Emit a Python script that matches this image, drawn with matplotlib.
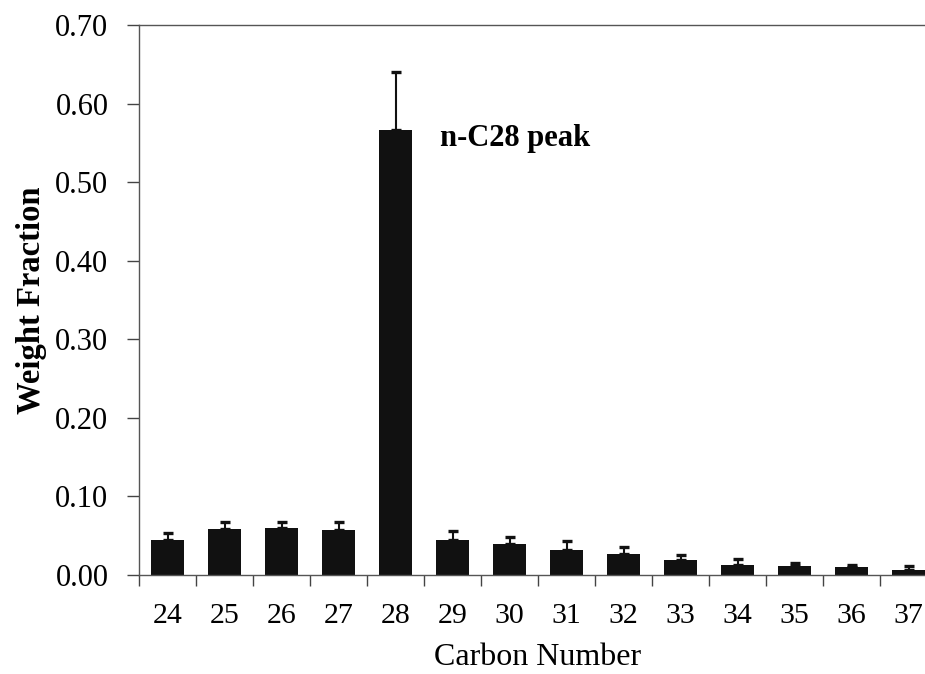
import matplotlib
matplotlib.use("Agg")
import matplotlib.pyplot as plt
import numpy as np

carbon = [24, 25, 26, 27, 28, 29, 30, 31, 32, 33, 34, 35, 36, 37]
fraction = [0.045, 0.058, 0.060, 0.057, 0.566, 0.045, 0.039, 0.032, 0.027, 0.019, 0.013, 0.011, 0.010, 0.006]
error = [0.008, 0.009, 0.008, 0.010, 0.074, 0.011, 0.009, 0.011, 0.008, 0.007, 0.007, 0.004, 0.003, 0.005]
yticks = [0.0, 0.1, 0.2, 0.3, 0.4, 0.5, 0.6, 0.7]

plt.rcParams['font.family'] = ['Liberation Serif', 'DejaVu Serif']

fig = plt.figure(figsize=(9.25, 6.74), dpi=100)
ax = fig.add_axes([0.1503, 0.1469, 0.8627, 0.8160])

ax.bar(carbon, fraction, width=0.57, color='#111111', zorder=2)
ax.errorbar(carbon, fraction, yerr=[np.zeros(len(error)), error], fmt='none',
            ecolor='#111111', elinewidth=1.5, capsize=3.6, capthick=2.4, zorder=3)

ax.set_xlim(23.5, 37.5)
ax.set_ylim(0, 0.70)
ax.set_yticks(yticks)
ax.set_yticklabels([f"{v:.2f}" for v in yticks], fontsize=22)

bounds = np.arange(23.5, 38.0, 1.0)
ax.set_xticks(bounds)
ax.set_xticklabels([])
ax.set_xticks(carbon, minor=True)
ax.set_xticklabels([str(c) for c in carbon], minor=True, fontsize=21.5)
ax.tick_params(axis='x', which='major', direction='out', length=8, width=1, color='#444444')
ax.tick_params(axis='x', which='minor', length=0, pad=20)
ax.tick_params(axis='y', direction='out', length=9, width=1, color='#444444', pad=13)

for s in ['left', 'bottom', 'top', 'right']:
    ax.spines[s].set_color('#555555')
    ax.spines[s].set_linewidth(1.0)

ax.set_xlabel('Carbon Number', fontsize=23, labelpad=10)
ax.set_ylabel('Weight Fraction', fontsize=23.5, fontweight='bold', labelpad=6)

ax.text(28.78, 0.555, 'n-C28 peak', fontsize=22, fontweight='bold', ha='left', va='center')

fig.savefig('out.png', dpi=100)
